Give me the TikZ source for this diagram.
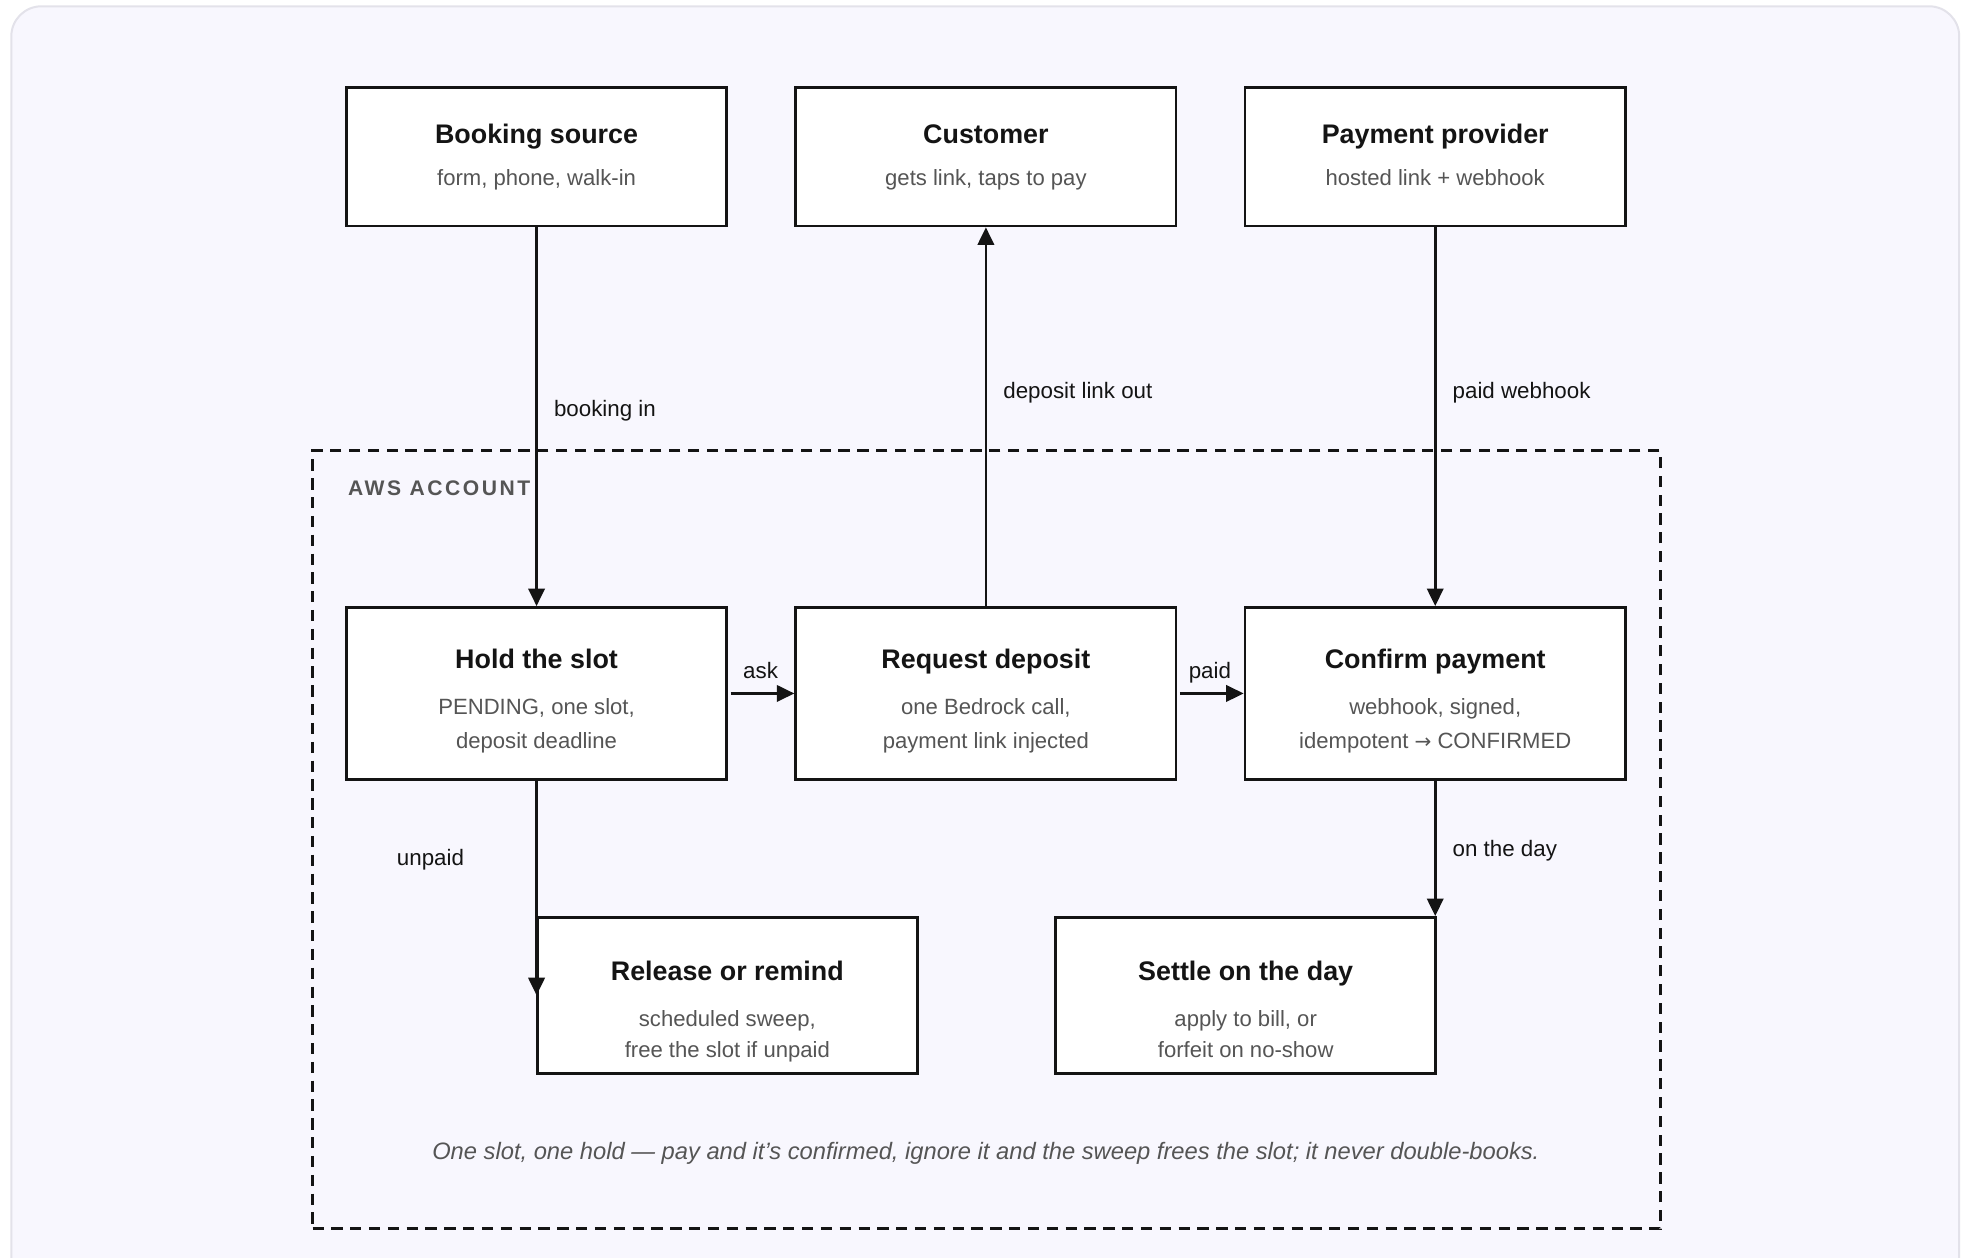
\documentclass[tikz,border=0pt]{standalone}
\usepackage{fontspec}
\setmainfont{Liberation Sans}
\newfontfamily\spacedfont[LetterSpace=12]{Liberation Sans}
\newfontfamily\arrowfont{DejaVu Sans}
\usetikzlibrary{arrows.meta}
\definecolor{bgc}{HTML}{F8F7FE}
\definecolor{framec}{HTML}{E3E2EA}
\definecolor{ink}{HTML}{141414}
\definecolor{subc}{HTML}{555555}
\begin{document}
\begin{tikzpicture}[x=0.5pt,y=-0.5pt,
  box/.style={draw=ink, line width=1.1pt, fill=white, inner sep=0pt, minimum width=151.5pt},
  tall/.style={box, minimum height=68.5pt},
  short/.style={box, minimum height=55pt},
  mid/.style={box, minimum height=62pt},
  ttl/.style={font=\fontsize{10.7}{12}\selectfont\bfseries, text=ink, inner sep=0pt, text height=0.75em, text depth=0.2em},
  sub/.style={font=\fontsize{8.8}{10}\selectfont, text=subc, inner sep=0pt, text height=0.75em, text depth=0.2em},
  lbl/.style={font=\fontsize{8.9}{10}\selectfont, text=ink, inner sep=0pt, text height=0.75em, text depth=0.2em},
  arr/.style={draw=ink, line width=1.1pt, -{Triangle[length=7pt,width=6.5pt]}}]
\useasboundingbox (0,0) rectangle (1568,1002);
\draw[framec, line width=0.8pt, fill=bgc, rounded corners=12pt] (9,5) rectangle (1561,1030);
% AWS account
\node (aws) [draw=ink, line width=1.1pt, dash pattern=on 4.5pt off 3pt, minimum width=537pt, minimum height=310pt, inner sep=0pt] at (786,669) {};
\node (awslbl) [anchor=west, inner sep=0pt, text=subc, font=\fontsize{8.4}{10}\selectfont\bfseries\spacedfont] at (277,389) {AWS ACCOUNT};
% top boxes
\node (src) [short] at (427.5,125) {};
\node (srct) [ttl] at (427.5,108.5) {Booking source};
\node (srcs) [sub] at (427.5,142) {form, phone, walk-in};
\node (cust) [short] at (785.5,125) {};
\node (custt) [ttl] at (785.5,108.5) {Customer};
\node (custs) [sub] at (785.5,142) {gets link, taps to pay};
\node (prov) [short] at (1143.5,125) {};
\node (provt) [ttl] at (1143.5,108.5) {Payment provider};
\node (provs) [sub] at (1143.5,142) {hosted link + webhook};
% middle boxes
\node (hold) [tall] at (427.5,552.5) {};
\node (holdt) [ttl] at (427.5,527.5) {Hold the slot};
\node (holds1) [sub] at (427.5,564) {PENDING, one slot,};
\node (holds2) [sub] at (427.5,591) {deposit deadline};
\node (dep) [tall] at (785.5,552.5) {};
\node (dept) [ttl] at (785.5,527.5) {Request deposit};
\node (deps1) [sub] at (785.5,564) {one Bedrock call,};
\node (deps2) [sub] at (785.5,591) {payment link injected};
\node (conf) [tall] at (1143.5,552.5) {};
\node (conft) [ttl] at (1143.5,527.5) {Confirm payment};
\node (confs1) [sub] at (1143.5,564) {webhook, signed,};
\node (confs2) [sub] at (1143.5,591) {idempotent {\arrowfont\fontsize{8}{10}\selectfont →} CONFIRMED};
% bottom boxes
\node (rel) [mid] at (579.5,793) {};
\node (relt) [ttl] at (579.5,775.5) {Release or remind};
\node (rels1) [sub] at (579.5,812) {scheduled sweep,};
\node (rels2) [sub] at (579.5,837) {free the slot if unpaid};
\node (set) [mid] at (992.5,793) {};
\node (sett) [ttl] at (992.5,775.5) {Settle on the day};
\node (sets1) [sub] at (992.5,812) {apply to bill, or};
\node (sets2) [sub] at (992.5,837) {forfeit on no-show};
% connectors
\draw[arr] (src.south) -- (hold.north);
\draw[arr] (dep.north) -- (cust.south);
\draw[arr] (prov.south) -- (conf.north);
\draw[arr] ([xshift=1pt]hold.east) -- (dep.west);
\draw[arr] ([xshift=1pt]dep.east) -- (conf.west);
\draw[arr] (hold.south) -- (hold.south |- rel.west);
\draw[arr] (conf.south) -- (conf.south |- set.north);
% labels
\node (l1) [lbl, anchor=west] at (441,326) {booking in};
\node (l2) [lbl, anchor=west] at (799,312) {deposit link out};
\node (l3) [lbl, anchor=west] at (1157,312) {paid webhook};
\node (l4) [lbl] at (606,535) {ask};
\node (l5) [lbl] at (964,535) {paid};
\node (l6) [lbl] at (343,684) {unpaid};
\node (l7) [lbl, anchor=west] at (1157,677) {on the day};
\node (cap) [inner sep=0pt, text=subc, font=\fontsize{9.45}{11}\selectfont\itshape, text height=0.75em, text depth=0.2em] at (785.5,918) {One slot, one hold — pay and it’s confirmed, ignore it and the sweep frees the slot; it never double-books.};
\end{tikzpicture}
\end{document}
